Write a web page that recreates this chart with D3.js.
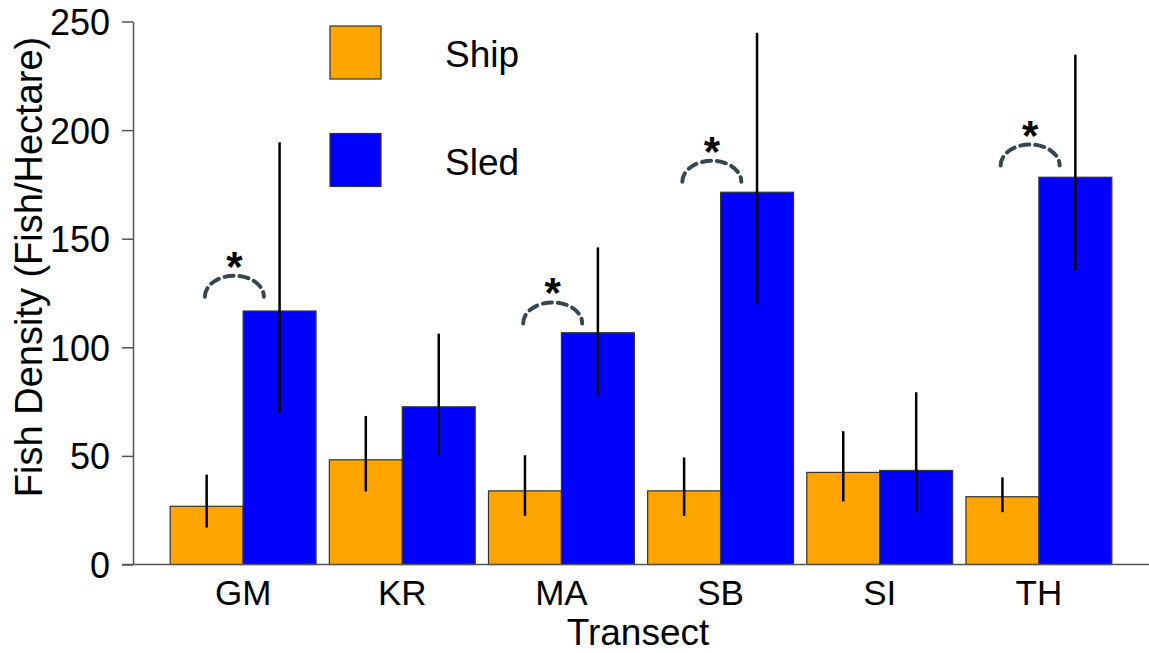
<!DOCTYPE html>
<html>
<head>
<meta charset="utf-8">
<script src="https://cdn.jsdelivr.net/npm/d3@7"></script>
<style>
  body { margin: 0; background: #fff; }
  svg text { font-family: "Liberation Sans", Arial, sans-serif; fill: #000; }
</style>
</head>
<body>
<div id="chart"></div>
<script>
// transects and the two survey methods
var groups = ["GM", "KR", "MA", "SB", "SI", "TH"];
var methods = ["Ship", "Sled"];

// mean density with error bar ends (fish / hectare)
var shipMean = [26.8, 48.2, 33.9, 33.9, 42.4, 31.2];
var shipLow  = [17.0, 33.6, 22.4, 22.4, 29.0, 24.1];
var shipHigh = [41.4, 68.4, 50.3, 49.3, 61.4, 40.1];

var sledMean = [116.7, 72.6, 106.7, 171.4, 43.3, 178.3];
var sledLow  = [69.8, 49.9, 77.8, 119.7, 23.8, 135.4];
var sledHigh = [194.4, 106.3, 146.0, 244.8, 79.3, 234.7];

// significant differences, level of the bracket in data units
var sigGroups = ["GM", "MA", "SB", "TH"];
var sigLevel  = [123.3, 111.0, 176.2, 183.7];

var yTicks = [0, 50, 100, 150, 200, 250];

var colors = { Ship: "#FFA500", Sled: "#0000FF" };

var width = 1149, height = 653;

var svg = d3.select("#chart")
  .append("svg")
  .attr("width", width)
  .attr("height", height);

var y = d3.scaleLinear()
  .domain([0, 250])
  .range([564.5, 21.5]);

var x0 = d3.scaleBand()
  .domain(groups)
  .range([163.5, 1118.5])
  .paddingInner(0.0835)
  .paddingOuter(0.042);

var x1 = d3.scaleBand()
  .domain(methods)
  .range([0, x0.bandwidth()]);

var rows = [];
groups.forEach(function(g, i) {
  rows.push({ group: g, method: "Ship", mean: shipMean[i], low: shipLow[i], high: shipHigh[i] });
  rows.push({ group: g, method: "Sled", mean: sledMean[i], low: sledLow[i], high: sledHigh[i] });
});

// bars
svg.append("g")
  .selectAll("rect")
  .data(rows)
  .enter()
  .append("rect")
  .attr("x", d => x0(d.group) + x1(d.method))
  .attr("y", d => y(d.mean))
  .attr("width", x1.bandwidth())
  .attr("height", d => y(0) - y(d.mean))
  .attr("fill", d => colors[d.method])
  .attr("stroke", "#333")
  .attr("stroke-width", 1.2);

// error bars
svg.append("g")
  .selectAll("line")
  .data(rows)
  .enter()
  .append("line")
  .attr("x1", d => x0(d.group) + x1(d.method) + x1.bandwidth() / 2)
  .attr("x2", d => x0(d.group) + x1(d.method) + x1.bandwidth() / 2)
  .attr("y1", d => y(d.low))
  .attr("y2", d => y(d.high))
  .attr("stroke", "#000")
  .attr("stroke-width", 2.5);

// y axis
var yAxis = svg.append("g")
  .attr("transform", "translate(133,0)")
  .call(d3.axisLeft(y).tickValues(yTicks).tickSize(11).tickSizeOuter(0).tickPadding(12));
yAxis.selectAll("path, line").attr("stroke", "#555").attr("stroke-width", 1.5);
yAxis.selectAll("text")
  .style("font-size", "36px")
  .attr("dy", "0.36em");

// x axis line and labels
svg.append("line")
  .attr("x1", 122)
  .attr("x2", width)
  .attr("y1", y(0))
  .attr("y2", y(0))
  .attr("stroke", "#555")
  .attr("stroke-width", 1.5);

svg.append("g")
  .selectAll("text")
  .data(groups)
  .enter()
  .append("text")
  .attr("x", d => x0(d) + x0.bandwidth() / 2)
  .attr("y", 605)
  .attr("text-anchor", "middle")
  .style("font-size", "35px")
  .text(d => d);

svg.append("text")
  .attr("x", 638)
  .attr("y", 645)
  .attr("text-anchor", "middle")
  .style("font-size", "37px")
  .text("Transect");

svg.append("text")
  .attr("transform", "translate(42,267) rotate(-90)")
  .attr("text-anchor", "middle")
  .style("font-size", "38px")
  .text("Fish Density (Fish/Hectare)");

// significance brackets
var sig = svg.append("g");
sigGroups.forEach(function(g, i) {
  var cx = x0(g) + x1("Ship") + x1.bandwidth() * 0.88;
  var yb = y(sigLevel[i]);
  var rx = 29.5, ry = 21;
  sig.append("path")
    .attr("d", `M${cx - rx},${yb} A${rx},${ry} 0 0 1 ${cx + rx},${yb}`)
    .attr("fill", "none")
    .attr("stroke", "#37474f")
    .attr("stroke-width", 4)
    .attr("stroke-dasharray", "9,6")
    .attr("stroke-linecap", "round");
  sig.append("text")
    .attr("x", cx)
    .attr("y", yb - 16)
    .attr("text-anchor", "middle")
    .style("font-size", "42px")
    .style("font-weight", "bold")
    .text("*");
});

// legend
var legend = svg.append("g");
methods.forEach(function(m, i) {
  legend.append("rect")
    .attr("x", 330)
    .attr("y", 26 + i * 107.5)
    .attr("width", 51)
    .attr("height", 53)
    .attr("fill", colors[m])
    .attr("stroke", "#333")
    .attr("stroke-width", 1.2);
  legend.append("text")
    .attr("x", 445)
    .attr("y", 67 + i * 107.5)
    .style("font-size", "37px")
    .text(m);
});
</script>
</body>
</html>
